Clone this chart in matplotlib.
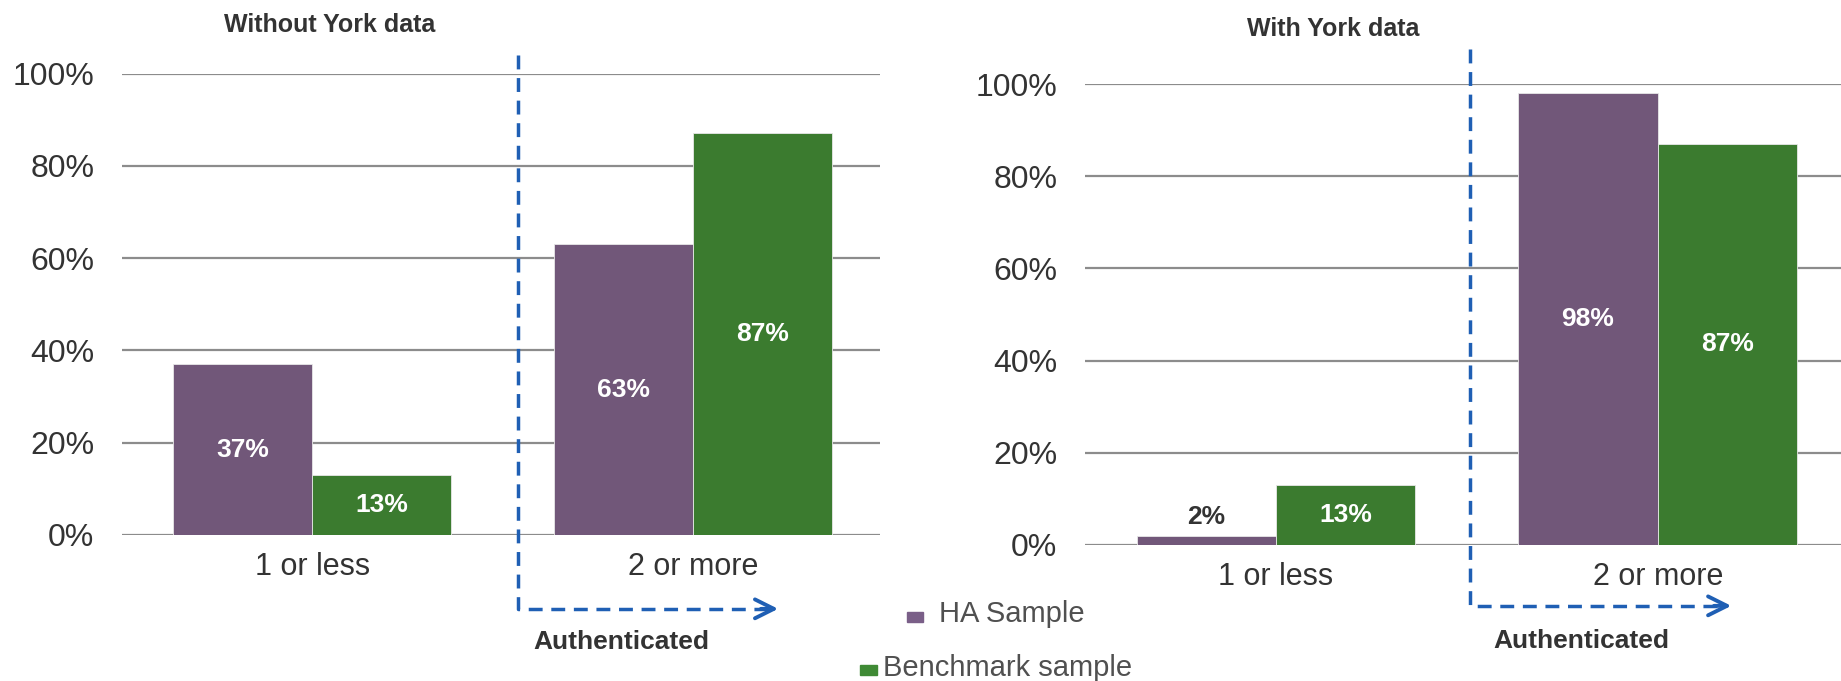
import numpy as np
import matplotlib
matplotlib.use('Agg')
import matplotlib.pyplot as plt
from matplotlib.patches import Rectangle

plt.rcParams['font.family'] = ['Liberation Sans', 'DejaVu Sans']

categories = ['1 or less', '2 or more']
series_names = ['HA Sample', 'Benchmark sample']
without_york_ha = [37, 63]
without_york_bench = [13, 87]
with_york_ha = [2, 98]
with_york_bench = [13, 87]
yticks = [0, 20, 40, 60, 80, 100]

purple = '#715779'
green = '#3b7b2f'
blue = '#1f5fb4'
grid_c = '#8c8c8c'
text_c = '#333333'

W, H = 1841, 681
fig = plt.figure(figsize=(W / 100, H / 100), dpi=100)


def px_axes(left, right, bottom, top):
    return fig.add_axes([left / W, 1 - bottom / H, (right - left) / W, (bottom - top) / H])


def draw_panel(ax, ha, bench, xmax, dash_x, dash_top, dash_bot, arrow_end, auth_x, auth_y):
    x = np.arange(len(categories))
    w = 0.365
    b1 = ax.bar(x - w / 2, ha, w, color=purple, edgecolor='#e8e8e8', linewidth=0.6, zorder=3)
    b2 = ax.bar(x + w / 2, bench, w, color=green, edgecolor='#e8e8e8', linewidth=0.6, zorder=3)
    for bars, vals in ((b1, ha), (b2, bench)):
        for r, v in zip(bars, vals):
            cx = r.get_x() + r.get_width() / 2
            if v < 5:
                ax.text(cx, v + 4, f'{v}%', ha='center', va='center', fontsize=19,
                        fontweight='bold', color=text_c, zorder=4)
            else:
                ax.text(cx, v / 2, f'{v}%', ha='center', va='center', fontsize=19,
                        fontweight='bold', color='white', zorder=4)
    ax.set_xlim(-0.5, xmax)
    ax.set_ylim(0, 100)
    ax.set_yticks(yticks)
    ax.set_yticklabels([f'{t}%' for t in yticks], fontsize=23, color=text_c)
    ax.set_xticks(x)
    ax.set_xticklabels(categories, fontsize=22, color=text_c)
    ax.tick_params(axis='both', length=0)
    ax.tick_params(axis='y', pad=20)
    ax.tick_params(axis='x', pad=12)
    ax.grid(axis='y', color=grid_c, linewidth=1.6, zorder=0)
    for s in ax.spines.values():
        s.set_visible(False)
    # dashed "authenticated" bracket
    ax.plot([dash_x, dash_x, arrow_end - 0.03], [dash_top, dash_bot, dash_bot], color=blue,
            lw=2.5, linestyle=(0, (4, 2.5)), clip_on=False, zorder=5)
    ax.annotate('', xy=(arrow_end, dash_bot), xytext=(arrow_end - 0.06, dash_bot),
                arrowprops=dict(arrowstyle='->', color=blue, lw=2.8, mutation_scale=34),
                annotation_clip=False)
    ax.text(auth_x, auth_y, 'Authenticated', ha='center', va='center', fontsize=19,
            fontweight='bold', color=text_c, clip_on=False)


ax1 = px_axes(122, 880, 535, 73.5)
draw_panel(ax1, without_york_ha, without_york_bench, 1.49, 0.54, 104, -16, 1.23, 0.81, -23.2)
ax2 = px_axes(1085, 1841, 545, 84)
draw_panel(ax2, with_york_ha, with_york_bench, 1.48, 0.508, 107.6, -13.2, 1.2, 0.80, -20.8)

fig.text(330 / W, 1 - 25 / H, 'Without York data', ha='center', va='center', fontsize=18,
         fontweight='bold', color=text_c)
fig.text(1333 / W, 1 - 29 / H, 'With York data', ha='center', va='center', fontsize=18,
         fontweight='bold', color=text_c)

# legend
fig.patches.append(Rectangle((907 / W, 1 - 622 / H), 16 / W, 10 / H, transform=fig.transFigure,
                             color='#7a5f88', figure=fig))
fig.text(939 / W, 1 - 614 / H, series_names[0], ha='left', va='center', fontsize=21, color='#505050')
fig.patches.append(Rectangle((860 / W, 1 - 675 / H), 17 / W, 10 / H, transform=fig.transFigure,
                             color='#3f8a35', figure=fig))
fig.text(883 / W, 1 - 668 / H, series_names[1], ha='left', va='center', fontsize=21, color='#505050')

fig.savefig('out.png', dpi=100, facecolor='white')
